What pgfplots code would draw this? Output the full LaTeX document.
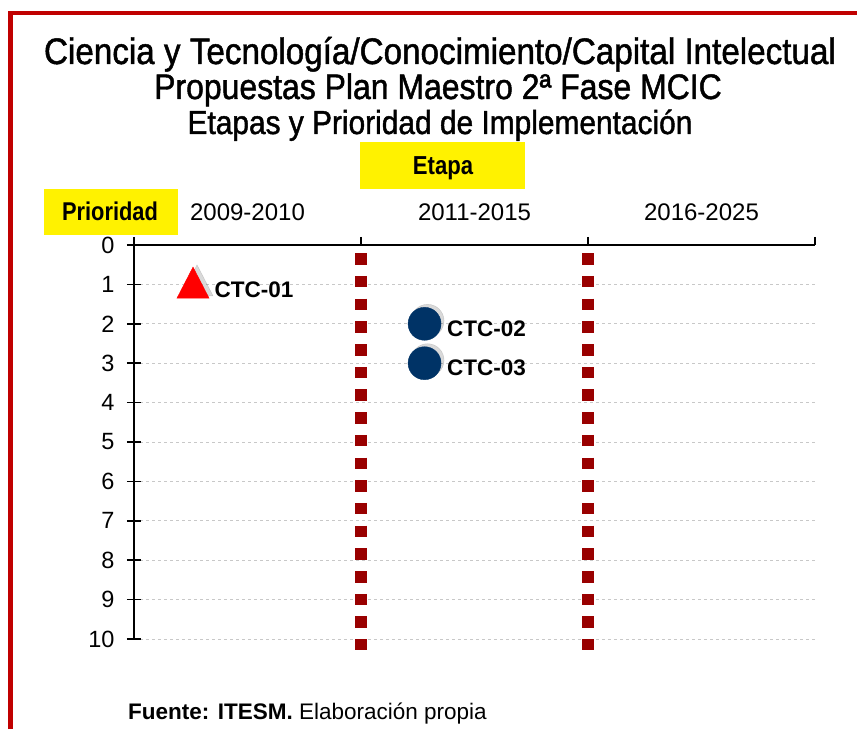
\documentclass[border=0pt]{standalone}
\usepackage{fontspec}
\setmainfont{Liberation Sans}
\newfontfamily\narrow[FakeStretch=0.85]{Liberation Sans}
\newfontfamily\titlefont[FakeStretch=0.9, FakeBold=1.3]{Liberation Sans}
\usepackage{pgfplots}
\pgfplotsset{compat=1.18}
\definecolor{borderred}{RGB}{192,0,0}
\definecolor{dotred}{RGB}{153,0,0}
\definecolor{navy}{RGB}{0,51,102}
\definecolor{gridgray}{RGB}{200,200,200}
\newcommand\fs[1]{\fontsize{#1}{#1}\selectfont}
\begin{document}
\begin{tikzpicture}[x=1pt,y=1pt]
\path[use as bounding box] (0,0) rectangle (857,729);
\draw[borderred, line width=4.5pt] (10.5,0) -- (10.5,716) -- (857,716);
\node[anchor=base, inner sep=0] at (440,665) {\titlefont\fs{36.9}Ciencia y Tecnología/Conocimiento/Capital Intelectual};
\node[anchor=base, inner sep=0] at (438,630) {\titlefont\fs{35.5}Propuestas Plan Maestro 2ª Fase MCIC};
\node[anchor=base, inner sep=0] at (440,595) {\titlefont\fs{33.2}Etapas y Prioridad de Implementación};
\fill[yellow] (44,494) rectangle (178,540);
\fill[yellow] (360,540) rectangle (525,587);
\node[anchor=base, inner sep=0] at (110,508) {\narrow\bfseries\fs{25.7}Prioridad};
\node[anchor=base, inner sep=0] at (443,554) {\narrow\bfseries\fs{26}Etapa};
\node[anchor=base west, inner sep=0] at (128,10) {\fs{22.5}\textbf{Fuente: ITESM.} Elaboración propia};

\begin{axis}[
  at={(134pt,484pt)}, anchor=north west, width=681pt, height=394pt, scale only axis,
  xmin=0, xmax=3, ymin=0, ymax=10, y dir=reverse,
  axis x line=none, axis y line*=left,
  xtick=\empty, ytick={0,1,2,3,4,5,6,7,8,9,10},
  ymajorgrids, grid style={gridgray, dash pattern=on 3pt off 3pt, line width=0.8pt},
  tick align=center, major tick length=14pt,
  axis line style={line width=1.5pt, -}, tick style={line width=1.5pt, black},
  yticklabel style={font=\fs{23.5}, xshift=-9pt},
  /pgf/number format/assume math mode=true,
  clip=false,
]
\addplot[dotred, line width=12pt, dash pattern=on 11.5pt off 11.2pt, forget plot] coordinates {(1,0.21) (1,10.28)};
\addplot[dotred, line width=12pt, dash pattern=on 11.5pt off 11.2pt, forget plot] coordinates {(2,0.21) (2,10.28)};
% shadows
\addplot[only marks, mark=triangle*, mark size=18.5pt, color=black!60, opacity=0.25, mark options={yscale=1.12, xshift=4pt, yshift=-1pt}, forget plot] coordinates {(0.26,1)};
\addplot[only marks, mark=*, mark size=16.5pt, color=black!60, opacity=0.25, mark options={xshift=3pt, yshift=3pt}, forget plot] coordinates {(1.28,2) (1.28,3)};
% data
\addplot[only marks, mark=triangle*, mark size=18.5pt, color=red, mark options={yscale=1.12, yshift=-3pt},
  point meta=explicit symbolic, nodes near coords,
  every node near coord/.style={anchor=west, xshift=18pt, yshift=-2pt, text=black, font=\bfseries\fs{22.5}}]
  coordinates {(0.26,1)[CTC-01]};
\addplot[only marks, mark=*, mark size=16.5pt, color=navy,
  point meta=explicit symbolic, nodes near coords,
  every node near coord/.style={anchor=west, xshift=19pt, yshift=-5pt, text=black, font=\bfseries\fs{22.5}}]
  coordinates {(1.28,2)[CTC-02] (1.28,3)[CTC-03]};
\end{axis}

\begin{axis}[
  at={(134pt,484pt)}, anchor=north west, width=681pt, height=394pt, scale only axis,
  xmin=0, xmax=3, ymin=0, ymax=1,
  axis x line*=top, axis y line=none,
  xtick={0,1,2,3}, xticklabels={2009-2010,2011-2015,2016-2025}, x tick label as interval,
  ytick=\empty,
  tick align=outside, major tick length=8pt,
  axis line style={line width=1.5pt, -}, tick style={line width=1.5pt, black},
  xticklabel style={font=\fs{24}, yshift=13pt},
]
\end{axis}
\end{tikzpicture}
\end{document}
